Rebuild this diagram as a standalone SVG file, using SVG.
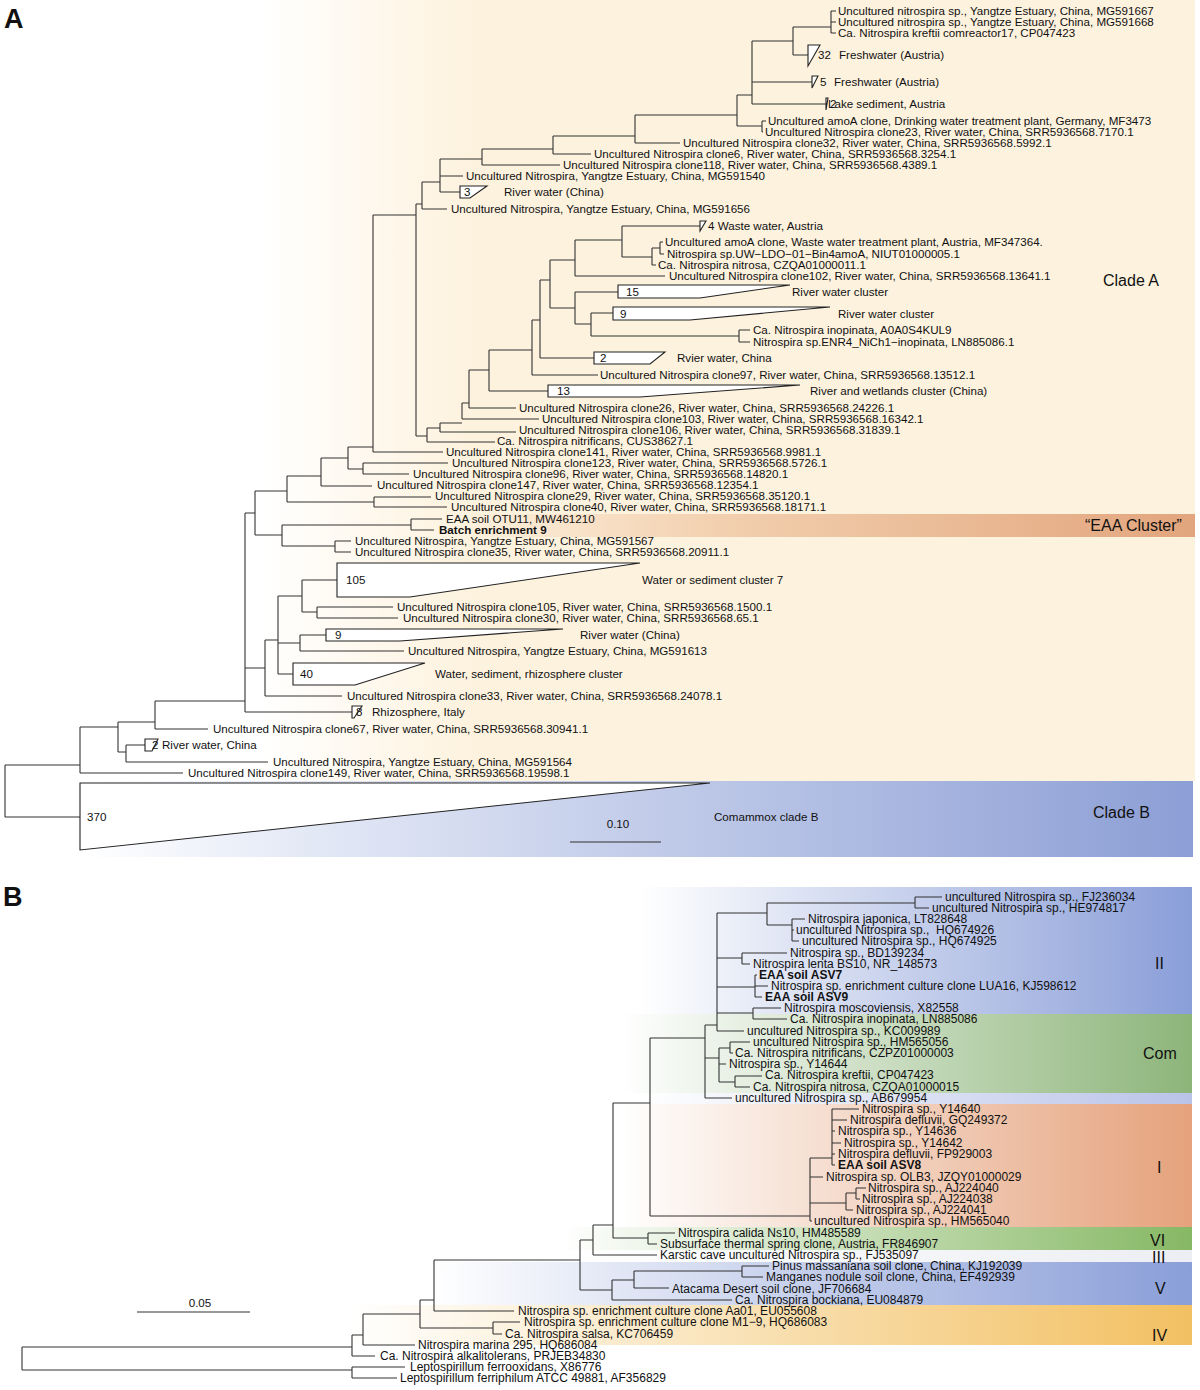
<svg xmlns="http://www.w3.org/2000/svg" width="1200" height="1390" viewBox="0 0 1200 1390">
<defs>
<linearGradient id="gA" gradientUnits="userSpaceOnUse" x1="260" y1="0" x2="470" y2="0"><stop offset="0" stop-color="#ffffff"/><stop offset="1" stop-color="#fdf2de"/></linearGradient>
<linearGradient id="gEAA" gradientUnits="userSpaceOnUse" x1="470" y1="0" x2="1195" y2="0"><stop offset="0" stop-color="#fdf0dc"/><stop offset="0.35" stop-color="#f2cfae"/><stop offset="1" stop-color="#e2a57d"/></linearGradient>
<linearGradient id="gCB" gradientUnits="userSpaceOnUse" x1="80" y1="0" x2="1193" y2="0"><stop offset="0" stop-color="#ffffff"/><stop offset="0.2" stop-color="#e4e9f6"/><stop offset="1" stop-color="#8c9ed5"/></linearGradient>
<linearGradient id="gII" gradientUnits="userSpaceOnUse" x1="640" y1="0" x2="1192" y2="0"><stop offset="0" stop-color="#ffffff"/><stop offset="1" stop-color="#8a9ed8"/></linearGradient>
<linearGradient id="gCom" gradientUnits="userSpaceOnUse" x1="620" y1="0" x2="1192" y2="0"><stop offset="0" stop-color="#ffffff"/><stop offset="1" stop-color="#8db57a"/></linearGradient>
<linearGradient id="gLav" gradientUnits="userSpaceOnUse" x1="640" y1="0" x2="1192" y2="0"><stop offset="0" stop-color="#ffffff"/><stop offset="1" stop-color="#b9c3e8"/></linearGradient>
<linearGradient id="gI" gradientUnits="userSpaceOnUse" x1="620" y1="0" x2="1192" y2="0"><stop offset="0" stop-color="#ffffff"/><stop offset="1" stop-color="#e5a27c"/></linearGradient>
<linearGradient id="gVI" gradientUnits="userSpaceOnUse" x1="560" y1="0" x2="1192" y2="0"><stop offset="0" stop-color="#ffffff"/><stop offset="1" stop-color="#86b864"/></linearGradient>
<linearGradient id="gIII" gradientUnits="userSpaceOnUse" x1="560" y1="0" x2="1192" y2="0"><stop offset="0" stop-color="#ffffff"/><stop offset="1" stop-color="#eceef3"/></linearGradient>
<linearGradient id="gV" gradientUnits="userSpaceOnUse" x1="430" y1="0" x2="1192" y2="0"><stop offset="0" stop-color="#ffffff"/><stop offset="1" stop-color="#8a9ed8"/></linearGradient>
<linearGradient id="gIV" gradientUnits="userSpaceOnUse" x1="350" y1="0" x2="1192" y2="0"><stop offset="0" stop-color="#ffffff"/><stop offset="1" stop-color="#f2c062"/></linearGradient>
</defs>
<style>
text{font-family:"Liberation Sans",Arial,Helvetica,sans-serif;fill:#111;}
.a{font-size:11.6px;}
.ab{font-size:11.6px;font-weight:bold;}
.b{font-size:12px;}
.bb{font-size:12px;font-weight:bold;}
.big{font-size:16px;}
.pl{font-size:27px;font-weight:bold;}
.br{fill:none;stroke:#333;stroke-width:1.1;}
.tri{fill:#fff;stroke:#222;stroke-width:1.1;}
</style>
<rect width="1200" height="1390" fill="#fff"/>
<g id="bands">
<rect x="0" y="0" width="1195" height="781" fill="url(#gA)"/>
<rect x="470" y="514" width="725" height="23" fill="url(#gEAA)"/>
<rect x="80" y="781" width="1113" height="76" fill="url(#gCB)"/>
<rect x="560" y="887" width="632" height="127" fill="url(#gII)"/>
<rect x="560" y="1014" width="632" height="79" fill="url(#gCom)"/>
<rect x="560" y="1093" width="632" height="11" fill="url(#gLav)"/>
<rect x="560" y="1104" width="632" height="123" fill="url(#gI)"/>
<rect x="540" y="1227" width="652" height="23" fill="url(#gVI)"/>
<rect x="540" y="1250" width="652" height="12" fill="url(#gIII)"/>
<rect x="400" y="1262" width="792" height="43" fill="url(#gV)"/>
<rect x="340" y="1305" width="852" height="40" fill="url(#gIV)"/>
</g>
<g id="panel-labels">
<text class="pl" x="4" y="28">A</text>
<text class="pl" x="3" y="906">B</text>
<text class="big" x="1103" y="286">Clade A</text>
<text class="big" x="1085" y="531">“EAA Cluster”</text>
<text class="big" x="1093" y="818">Clade B</text>
<text class="big" x="1155" y="969">II</text>
<text class="big" x="1143" y="1059">Com</text>
<text class="big" x="1157" y="1173">I</text>
<text class="big" x="1150" y="1246">VI</text>
<text class="big" x="1152" y="1263">III</text>
<text class="big" x="1155" y="1294">V</text>
<text class="big" x="1152" y="1341">IV</text>
</g>
<g id="connectors">
<path class="br" d="M5,765V817M5,765H80M5,817H80
M80,727V773M80,727H118M80,773H183
M118,722V752M118,722H155M118,752H126
M126,745V762M126,745H145M126,762H268
M155,701V729M155,701H245M155,729H208
M245,513V712M245,513H255M245,668H265M245,712H352
M265,640V696M265,640H278M265,696H342
M278,596V674M278,596H302M278,643H300M278,674H293
M302,580V612M302,580H337M302,612H317
M317,607V618M317,607H393M317,618H398
M300,635V651M300,635H326M300,651H404
M255,491V535M255,491H287M255,535H282
M282,525V546M282,525H411M282,546H335
M411,519V530M411,519H442M411,530H434
M335,541V552M335,541H351M335,552H351
M287,476V502M287,476H321M287,502H374
M374,497V507M374,497H431M374,507H447
M321,458V486M321,458H348M321,486H372
M348,447V469M348,447H373M348,469H363
M363,463V474M363,463H448M363,474H409
M373,215V452M373,215H416M373,452H443
M416,204V436M416,204H422M416,436H427
M422,182V209M422,182H440M422,209H447
M440,159V192M440,159H482M440,176H463M440,192H460
M482,149V165M482,149H553M482,165H560
M553,136V154M553,136H635M553,154H591
M635,115V143M635,115H737M635,143H680
M737,95V126M737,95H752M737,126H762
M762,121V132M762,121H766M762,132H763
M752,41V104M752,41H793M752,82H812M752,104H826
M793,27V55M793,27H831M793,55H808
M831,11V33M831,11H836M831,22H836M831,33H836
M427,428V442M427,428H440M427,442H495
M440,423V432M440,423H462M440,432H516
M462,403V419M462,403H469M462,419H539
M469,370V408M469,370H489M469,408H516
M489,350V391M489,350H532M489,391H548
M532,320V375M532,320H540M532,375H598
M540,280V358M540,280H550M540,358H594
M550,260V308M550,260H575M550,308H575
M575,240V276M575,240H622M575,276H665
M575,292V324M575,292H618M575,324H591
M591,313V336M591,313H613M591,336H739
M739,330V342M739,330H750M739,342H750
M622,226V257M622,226H700M622,257H652
M652,248V265M652,248H660M652,265H656
M660,242V254M660,242H663M660,254H664
M570,842H661"/>
<path class="br" d="M22,1347V1370M22,1347H352M22,1370H352
M352,1367V1378M352,1367H405M352,1378H397
M352,1335V1356M352,1335H363M352,1356H375
M363,1314V1345M363,1314H420M363,1345H415
M420,1300V1328M420,1300H434M420,1328H493
M493,1322V1334M493,1322H520M493,1334H502
M434,1260V1311M434,1260H580M434,1311H514
M580,1240V1290M580,1240H593M580,1290H612
M612,1280V1300M612,1280H634M612,1300H732
M634,1271V1288M634,1271H742M634,1288H669
M742,1266V1277M742,1266H769M742,1277H763
M593,1225V1255M593,1225H613M593,1255H657
M613,1103V1238M613,1103H650M613,1238H648
M648,1233V1244M648,1233H675M648,1244H657
M650,1038V1216M650,1038H705M650,1216H810
M810,1158V1221M810,1158H832M810,1177H823M810,1203H846M810,1221H812
M846,1193V1210M846,1193H856M846,1210H853
M856,1188V1199M856,1188H866M856,1199H860
M832,1109V1165M832,1109H859M832,1120H847M832,1131H835M832,1143H841M832,1154H835M832,1165H835
M705,1025V1098M705,1025H717M705,1058H719M705,1098H732
M719,1048V1082M719,1048H730M719,1064H726M719,1082H735
M730,1042V1053M730,1042H750M730,1053H733
M735,1076V1087M735,1076H762M735,1087H750
M717,913V1031M717,913H767M717,958H742M717,987H755M717,1013H753M717,1031H744
M767,903V925M767,903H915M767,925H792
M915,897V908M915,897H942M915,908H929
M792,919V941M792,919H805M792,930H794M792,941H799
M742,953V964M742,953H787M742,964H750
M755,975V997M755,975H757M755,986H768M755,997H762
M753,1008V1019M753,1008H781M753,1019H787
M137,1312H250"/>
</g>
<g id="scale-labels">
<text class="a" x="618" y="828" text-anchor="middle">0.10</text>
<text class="a" x="200" y="1307" text-anchor="middle">0.05</text>
</g>
<g id="clades-A">
<g id="c32"><polygon class="tri" points="808,45 820,45 808,66"/><text class="a" x="818" y="59">32</text><text class="a" x="839" y="59">Freshwater (Austria)</text></g>
<g id="c5"><polygon class="tri" points="812,76 818,76 812,88"/><text class="a" x="820" y="86">5</text><text class="a" x="834" y="86">Freshwater (Austria)</text></g>
<g id="c2a"><polygon class="tri" points="826,98 828,98 826,110"/><text class="a" x="828" y="108">Lake sediment, Austria</text><text class="a" x="830" y="108">2</text></g>
<g id="c3"><polygon class="tri" points="460,186 487,186 470,198 460,198"/><text class="a" x="464" y="196">3</text><text class="a" x="504" y="196">River water (China)</text></g>
<g id="c4"><polygon class="tri" points="700,221 706,221 700,231"/><text class="a" x="708" y="230">4 Waste water, Austria</text></g>
<g id="c15"><polygon class="tri" points="618,285 790,285 700,298 618,298"/><text class="a" x="626" y="296">15</text><text class="a" x="792" y="296">River water cluster</text></g>
<g id="c9a"><polygon class="tri" points="613,307 830,307 690,320 613,320"/><text class="a" x="620" y="318">9</text><text class="a" x="838" y="318">River water cluster</text></g>
<g id="c2b"><polygon class="tri" points="594,352 665,352 650,364 594,364"/><text class="a" x="600" y="362">2</text><text class="a" x="677" y="362">Rvier water, China</text></g>
<g id="c13"><polygon class="tri" points="548,385 800,385 640,397 548,397"/><text class="a" x="557" y="395">13</text><text class="a" x="810" y="395">River and wetlands cluster (China)</text></g>
<g id="c105"><polygon class="tri" points="337,563 640,563 410,597 337,597"/><text class="a" x="346" y="584">105</text><text class="a" x="642" y="584">Water or sediment cluster 7</text></g>
<g id="c9b"><polygon class="tri" points="326,629 563,629 400,641 326,641"/><text class="a" x="335" y="639">9</text><text class="a" x="580" y="639">River water (China)</text></g>
<g id="c40"><polygon class="tri" points="293,663 425,663 355,685 293,685"/><text class="a" x="300" y="678">40</text><text class="a" x="435" y="678">Water, sediment, rhizosphere cluster</text></g>
<g id="c8"><polygon class="tri" points="352,706 362,706 354,718 352,718"/><text class="a" x="356" y="716">8</text><text class="a" x="372" y="716">Rhizosphere, Italy</text></g>
<g id="c2c"><polygon class="tri" points="145,739 158,739 152,751 145,751"/><text class="a" x="152" y="749">2</text><text class="a" x="162" y="749">River water, China</text></g>
<g id="c370"><polygon class="tri" points="80,783 710,783 80,850"/><text class="a" x="87" y="821">370</text><text class="a" x="714" y="821">Comammox clade B</text></g>
</g>
<g id="leaves-A">
<text id="a1" class="a" x="838" y="15">Uncultured nitrospira sp., Yangtze Estuary, China, MG591667</text>
<text id="a2" class="a" x="838" y="26">Uncultured nitrospira sp., Yangtze Estuary, China, MG591668</text>
<text id="a3" class="a" x="838" y="37">Ca. Nitrospira kreftii comreactor17, CP047423</text>
<text id="a4" class="a" x="768" y="125">Uncultured amoA clone, Drinking water treatment plant, Germany, MF3473</text>
<text id="a5" class="a" x="765" y="136">Uncultured Nitrospira clone23, River water, China, SRR5936568.7170.1</text>
<text id="a6" class="a" x="683" y="147">Uncultured Nitrospira clone32, River water, China, SRR5936568.5992.1</text>
<text id="a7" class="a" x="594" y="158">Uncultured Nitrospira clone6, River water, China, SRR5936568.3254.1</text>
<text id="a8" class="a" x="563" y="169">Uncultured Nitrospira clone118, River water, China, SRR5936568.4389.1</text>
<text id="a9" class="a" x="466" y="180">Uncultured Nitrospira, Yangtze Estuary, China, MG591540</text>
<text id="a10" class="a" x="451" y="213">Uncultured Nitrospira, Yangtze Estuary, China, MG591656</text>
<text id="a11" class="a" x="665" y="246">Uncultured amoA clone, Waste water treatment plant, Austria, MF347364.</text>
<text id="a12" class="a" x="667" y="258">Nitrospira sp.UW−LDO−01−Bin4amoA, NIUT01000005.1</text>
<text id="a13" class="a" x="658" y="269">Ca. Nitrospira nitrosa, CZQA01000011.1</text>
<text id="a14" class="a" x="669" y="280">Uncultured Nitrospira clone102, River water, China, SRR5936568.13641.1</text>
<text id="a15" class="a" x="753" y="334">Ca. Nitrospira inopinata, A0A0S4KUL9</text>
<text id="a16" class="a" x="753" y="346">Nitrospira sp.ENR4_NiCh1−inopinata, LN885086.1</text>
<text id="a17" class="a" x="600" y="379">Uncultured Nitrospira clone97, River water, China, SRR5936568.13512.1</text>
<text id="a18" class="a" x="519" y="412">Uncultured Nitrospira clone26, River water, China, SRR5936568.24226.1</text>
<text id="a19" class="a" x="542" y="423">Uncultured Nitrospira clone103, River water, China, SRR5936568.16342.1</text>
<text id="a20" class="a" x="519" y="434">Uncultured Nitrospira clone106, River water, China, SRR5936568.31839.1</text>
<text id="a21" class="a" x="497" y="445">Ca. Nitrospira nitrificans, CUS38627.1</text>
<text id="a22" class="a" x="446" y="456">Uncultured Nitrospira clone141, River water, China, SRR5936568.9981.1</text>
<text id="a23" class="a" x="452" y="467">Uncultured Nitrospira clone123, River water, China, SRR5936568.5726.1</text>
<text id="a24" class="a" x="413" y="478">Uncultured Nitrospira clone96, River water, China, SRR5936568.14820.1</text>
<text id="a25" class="a" x="377" y="489">Uncultured Nitrospira clone147, River water, China, SRR5936568.12354.1</text>
<text id="a26" class="a" x="435" y="500">Uncultured Nitrospira clone29, River water, China, SRR5936568.35120.1</text>
<text id="a27" class="a" x="451" y="511">Uncultured Nitrospira clone40, River water, China, SRR5936568.18171.1</text>
<text id="a28" class="a" x="446" y="523">EAA soil OTU11, MW461210</text>
<text id="a29" class="ab" x="439" y="534">Batch enrichment 9</text>
<text id="a30" class="a" x="355" y="545">Uncultured Nitrospira, Yangtze Estuary, China, MG591567</text>
<text id="a31" class="a" x="355" y="556">Uncultured Nitrospira clone35, River water, China, SRR5936568.20911.1</text>
<text id="a32" class="a" x="397" y="611">Uncultured Nitrospira clone105, River water, China, SRR5936568.1500.1</text>
<text id="a33" class="a" x="403" y="622">Uncultured Nitrospira clone30, River water, China, SRR5936568.65.1</text>
<text id="a34" class="a" x="408" y="655">Uncultured Nitrospira, Yangtze Estuary, China, MG591613</text>
<text id="a35" class="a" x="347" y="700">Uncultured Nitrospira clone33, River water, China, SRR5936568.24078.1</text>
<text id="a36" class="a" x="213" y="733">Uncultured Nitrospira clone67, River water, China, SRR5936568.30941.1</text>
<text id="a37" class="a" x="273" y="766">Uncultured Nitrospira, Yangtze Estuary, China, MG591564</text>
<text id="a38" class="a" x="188" y="777">Uncultured Nitrospira clone149, River water, China, SRR5936568.19598.1</text>
</g>
<g id="leaves-B">
<text id="b1" class="b" x="945" y="901">uncultured Nitrospira sp., FJ236034</text>
<text id="b2" class="b" x="932" y="912">uncultured Nitrospira sp., HE974817</text>
<text id="b3" class="b" x="808" y="923">Nitrospira japonica, LT828648</text>
<text id="b4" class="b" x="796" y="934" xml:space="preserve">uncultured Nitrospira sp.,  HQ674926</text>
<text id="b5" class="b" x="802" y="945">uncultured Nitrospira sp., HQ674925</text>
<text id="b6" class="b" x="790" y="957">Nitrospira sp., BD139234</text>
<text id="b7" class="b" x="753" y="968">Nitrospira lenta BS10, NR_148573</text>
<text id="b8" class="bb" x="759" y="979">EAA soil ASV7</text>
<text id="b9" class="b" x="771" y="990">Nitrospira sp. enrichment culture clone LUA16, KJ598612</text>
<text id="b10" class="bb" x="765" y="1001">EAA soil ASV9</text>
<text id="b11" class="b" x="784" y="1012">Nitrospira moscoviensis, X82558</text>
<text id="b12" class="b" x="790" y="1023">Ca. Nitrospira inopinata, LN885086</text>
<text id="b13" class="b" x="747" y="1035">uncultured Nitrospira sp., KC009989</text>
<text id="b14" class="b" x="753" y="1046">uncultured Nitrospira sp., HM565056</text>
<text id="b15" class="b" x="735" y="1057">Ca. Nitrospira nitrificans, CZPZ01000003</text>
<text id="b16" class="b" x="729" y="1068">Nitrospira sp., Y14644</text>
<text id="b17" class="b" x="765" y="1079">Ca. Nitrospira kreftii, CP047423</text>
<text id="b18" class="b" x="753" y="1091">Ca. Nitrospira nitrosa, CZQA01000015</text>
<text id="b19" class="b" x="735" y="1102">uncultured Nitrospira sp., AB679954</text>
<text id="b20" class="b" x="862" y="1113">Nitrospira sp., Y14640</text>
<text id="b21" class="b" x="850" y="1124">Nitrospira defluvii, GQ249372</text>
<text id="b22" class="b" x="838" y="1135">Nitrospira sp., Y14636</text>
<text id="b23" class="b" x="844" y="1147">Nitrospira sp., Y14642</text>
<text id="b24" class="b" x="838" y="1158">Nitrospira defluvii, FP929003</text>
<text id="b25" class="bb" x="838" y="1169">EAA soil ASV8</text>
<text id="b26" class="b" x="826" y="1181">Nitrospira sp. OLB3, JZQY01000029</text>
<text id="b27" class="b" x="868" y="1192">Nitrospira sp., AJ224040</text>
<text id="b28" class="b" x="862" y="1203">Nitrospira sp., AJ224038</text>
<text id="b29" class="b" x="856" y="1214">Nitrospira sp., AJ224041</text>
<text id="b30" class="b" x="814" y="1225">uncultured Nitrospira sp., HM565040</text>
<text id="b31" class="b" x="678" y="1237">Nitrospira calida Ns10, HM485589</text>
<text id="b32" class="b" x="660" y="1248">Subsurface thermal spring clone, Austria, FR846907</text>
<text id="b33" class="b" x="660" y="1259">Karstic cave uncultured Nitrospira sp., FJ535097</text>
<text id="b34" class="b" x="772" y="1270">Pinus massaniana soil clone, China, KJ192039</text>
<text id="b35" class="b" x="766" y="1281">Manganes nodule soil clone, China, EF492939</text>
<text id="b36" class="b" x="672" y="1293">Atacama Desert soil clone, JF706684</text>
<text id="b37" class="b" x="735" y="1304">Ca. Nitrospira bockiana, EU084879</text>
<text id="b38" class="b" x="518" y="1315">Nitrospira sp. enrichment culture clone Aa01, EU055608</text>
<text id="b39" class="b" x="524" y="1326">Nitrospira sp. enrichment culture clone M1−9, HQ686083</text>
<text id="b40" class="b" x="505" y="1338">Ca. Nitrospira salsa, KC706459</text>
<text id="b41" class="b" x="418" y="1349">Nitrospira marina 295, HQ686084</text>
<text id="b42" class="b" x="380" y="1360">Ca. Nitrospira alkalitolerans, PRJEB34830</text>
<text id="b43" class="b" x="410" y="1371">Leptospirillum ferrooxidans, X86776</text>
<text id="b44" class="b" x="400" y="1382">Leptospirillum ferriphilum ATCC 49881, AF356829</text>
</g>
</svg>
